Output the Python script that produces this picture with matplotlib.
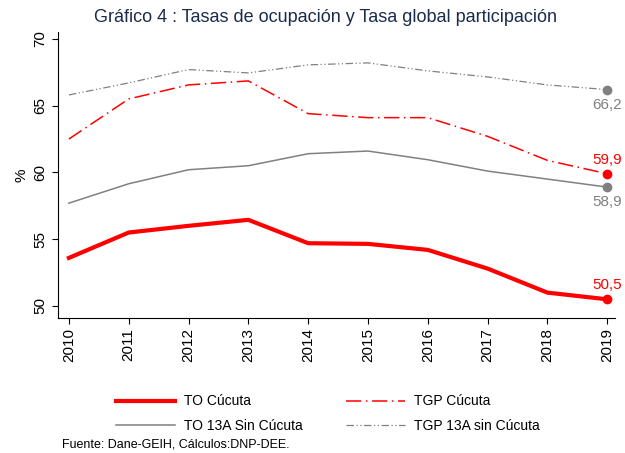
import matplotlib.pyplot as plt
from matplotlib.lines import Line2D

plt.rcParams['font.family'] = ['Liberation Sans', 'DejaVu Sans']

# datos
anios = [2010, 2011, 2012, 2013, 2014, 2015, 2016, 2017, 2018, 2019]
to_cucuta = [53.6, 55.5, 56.0, 56.45, 54.7, 54.65, 54.2, 52.8, 51.0, 50.5]
tgp_cucuta = [62.5, 65.5, 66.55, 66.85, 64.4, 64.1, 64.1, 62.7, 60.9, 59.9]
to_13a = [57.7, 59.15, 60.2, 60.5, 61.4, 61.6, 60.95, 60.1, 59.5, 58.9]
tgp_13a = [65.8, 66.7, 67.7, 67.45, 68.05, 68.2, 67.6, 67.15, 66.55, 66.2]
yticks = [50, 55, 60, 65, 70]

rojo = '#ff0000'
gris = '#808080'

fig = plt.figure(figsize=(6.25, 4.53), dpi=100)
ax = fig.add_axes([0.093, 0.298, 0.891, 0.631])

ax.plot(anios, tgp_13a, color=gris, linewidth=0.9, dashes=[6, 2, 1, 2, 1, 2])
ax.plot(anios, to_13a, color=gris, linewidth=1.1)
ax.plot(anios, tgp_cucuta, color=rojo, linewidth=1.1, dashes=[10, 3, 1, 3])
ax.plot(anios, to_cucuta, color=rojo, linewidth=3)

# puntos finales y etiquetas
ax.plot(anios[-1], tgp_13a[-1], 'o', color=gris, markersize=6)
ax.plot(anios[-1], to_13a[-1], 'o', color=gris, markersize=6)
ax.plot(anios[-1], tgp_cucuta[-1], 'o', color=rojo, markersize=6)
ax.plot(anios[-1], to_cucuta[-1], 'o', color=rojo, markersize=6)

def fmt(v):
    return f'{v:.1f}'.replace('.', ',')

ax.annotate(fmt(tgp_13a[-1]), (anios[-1], tgp_13a[-1]), xytext=(0, -6), textcoords='offset points',
            ha='center', va='top', color=gris, fontsize=11)
ax.annotate(fmt(to_13a[-1]), (anios[-1], to_13a[-1]), xytext=(0, -6), textcoords='offset points',
            ha='center', va='top', color=gris, fontsize=11)
ax.annotate(fmt(tgp_cucuta[-1]), (anios[-1], tgp_cucuta[-1]), xytext=(0, 5), textcoords='offset points',
            ha='center', va='bottom', color=rojo, fontsize=11)
ax.annotate(fmt(to_cucuta[-1]), (anios[-1], to_cucuta[-1]), xytext=(0, 5), textcoords='offset points',
            ha='center', va='bottom', color=rojo, fontsize=11)

ax.set_xlim(2009.82, 2019.13)
ax.set_ylim(49.1, 70.5)
ax.set_xticks(anios)
ax.set_xticklabels([str(a) for a in anios], rotation=90, fontsize=11)
ax.set_yticks(yticks)
ax.set_yticklabels([str(v) for v in yticks], rotation=90, va='center', fontsize=11)
ax.set_ylabel('%', fontsize=11)
ax.spines['top'].set_visible(False)
ax.spines['right'].set_visible(False)
ax.tick_params(length=4, width=0.8)

fig.text(0.52, 0.962, 'Gráfico 4 : Tasas de ocupación y Tasa global participación',
         color='#1a2b4c', fontsize=13, ha='center', va='center')

handles = [
    Line2D([], [], color=rojo, linewidth=3),
    Line2D([], [], color=gris, linewidth=1.1),
    Line2D([], [], color=rojo, linewidth=1.1, dashes=[10, 3, 1, 3]),
    Line2D([], [], color=gris, linewidth=0.9, dashes=[6, 2, 1, 2, 1, 2]),
]
labels = ['TO Cúcuta', 'TO 13A Sin Cúcuta', 'TGP Cúcuta', 'TGP 13A sin Cúcuta']
fig.legend(handles, labels, ncol=2, frameon=False, fontsize=10,
           loc='center', bbox_to_anchor=(0.524, 0.087), handlelength=4.3,
           handletextpad=0.6, columnspacing=3.1, labelspacing=0.75)

fig.text(0.099, 0.013, 'Fuente: Dane-GEIH, Cálculos:DNP-DEE.', fontsize=9)

fig.savefig('out.png', dpi=100)
